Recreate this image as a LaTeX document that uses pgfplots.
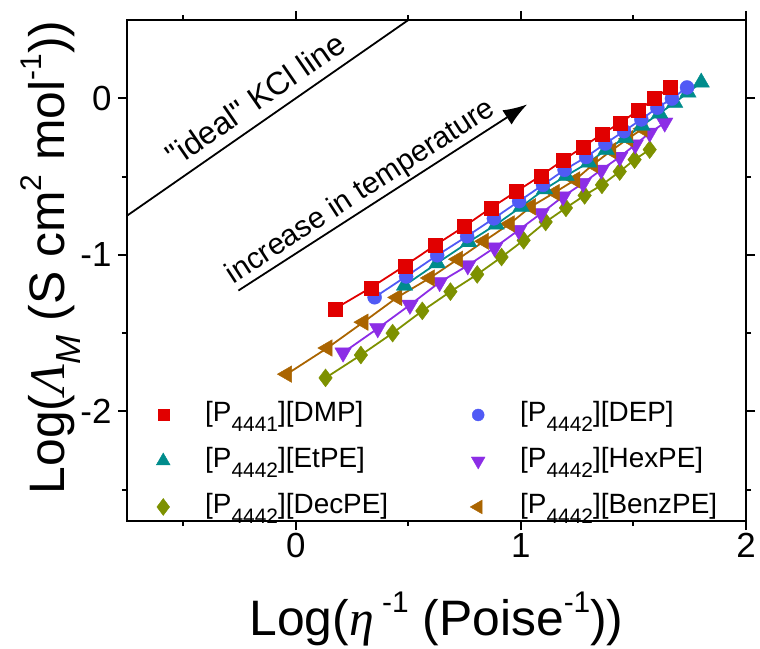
\documentclass[border=0pt]{standalone}
\usepackage{pgfplots}
\pgfplotsset{compat=1.18}
\usetikzlibrary{arrows.meta}
\usepackage{fontspec}
\setmainfont{Liberation Sans}
\newfontfamily\serif{Liberation Serif}
\newfontfamily\nomap{Liberation Sans}[Ligatures=TeXOff]
\newcommand\sups[1]{\raisebox{0.47em}{\fontsize{30}{30}\selectfont #1}}
\newcommand\subs[1]{\raisebox{-0.35em}{\fontsize{21}{21}\selectfont #1}}
\definecolor{cred}{RGB}{225,0,0}
\definecolor{cblue}{RGB}{80,90,245}
\definecolor{cteal}{RGB}{0,140,140}
\definecolor{cpurple}{RGB}{140,45,230}
\definecolor{colive}{RGB}{125,145,0}
\definecolor{cbrown}{RGB}{170,100,0}
\pgfplotsset{mylegimg/.style={legend image code/.code={\path[draw=none,fill=none] (-14bp,0bp) rectangle (39bp,0bp); \draw[##1] plot coordinates {(0bp,0bp)};}}}
\begin{document}
\begin{tikzpicture}
\begin{axis}[
  scale only axis, width=619bp, height=501bp,
  xmin=-0.75, xmax=2, ymin=-2.7, ymax=0.5,
  xtick={0,1,2}, xticklabels={0,1,2},
  ytick={-2,-1,0}, yticklabels={-2,-1,0},
  minor xtick={-0.5,0.5,1.5}, minor ytick={-2.5,-1.5,-0.5},
  tick align=outside,
  major tick length=9bp, minor tick length=5bp,
  every tick/.style={black, line width=2bp},
  axis line style={line width=2.5bp},
  tick label style={font=\fontsize{35}{40}\selectfont},
  yticklabel style={xshift=-3bp},
  xlabel={Log({\serif\itshape η}\,\sups{-1} (Poise\sups{-1}))},
  ylabel={Log({\serif\itshape Λ}\textsubscript{\textit{M}} (S cm\sups{2} mol\sups{-1}))},
  label style={font=\fontsize{50}{58}\selectfont},
  x label style={at={(axis description cs:0.5,-0.196)}, anchor=center},
  y label style={at={(axis description cs:-0.124,0.526)}, anchor=center, rotate=0},
  legend columns=2,
  legend cell align=left,
  legend style={draw=none, fill=none, inner sep=0pt, font=\fontsize{28}{33}\selectfont,
    at={(rel axis cs:0.0356,0.245)}, anchor=north west, row sep=13bp,
    nodes={inner sep=3bp, text height=20bp, text depth=7bp},
    /tikz/every even column/.append style={column sep=73bp}},
  clip=false,
]
\addlegendimage{mylegimg, only marks, mark=square*, cred, mark size=5.5bp}
\addlegendentry{[P\subs{4441}][DMP]}
\addlegendimage{mylegimg, only marks, mark=*, cblue, mark size=6bp}
\addlegendentry{[P\subs{4442}][DEP]}
\addlegendimage{mylegimg, only marks, mark=triangle*, cteal, mark size=8bp}
\addlegendentry{[P\subs{4442}][EtPE]}
\addlegendimage{mylegimg, only marks, mark=triangle*, mark options={rotate=180}, cpurple, mark size=8bp}
\addlegendentry{[P\subs{4442}][HexPE]}
\addlegendimage{mylegimg, only marks, mark=diamond*, colive, mark size=8.5bp}
\addlegendentry{[P\subs{4442}][DecPE]}
\addlegendimage{mylegimg, only marks, mark=triangle*, mark options={rotate=90}, cbrown, mark size=8bp}
\addlegendentry{[P\subs{4442}][BenzPE]}

% ideal KCl line
\addplot[black, line width=1.8bp, forget plot] coordinates {(-0.75,-0.75) (0.5,0.5)};
% arrow
\addplot[black, line width=1.8bp, -{Latex[length=24bp,width=17bp]}, forget plot] coordinates {(-0.255,-1.228) (1.028,-0.039)};

\node[rotate=34.6, font=\fontsize{32}{38}\selectfont] at (axis cs:-0.18,-0.005) {\nomap "ideal" KCl line};
\node[rotate=33, font=\fontsize{30}{36}\selectfont] at (axis cs:0.29,-0.6) {increase in temperature};

\addplot[colive, line width=1.8bp, mark=diamond*, mark size=9bp, mark options={line width=0.4bp}, forget plot] coordinates {
(0.132,-1.786) (0.289,-1.640) (0.430,-1.500) (0.562,-1.358) (0.687,-1.235) (0.806,-1.125) (0.914,-1.014) (1.012,-0.907) (1.110,-0.790) (1.200,-0.700) (1.283,-0.620) (1.360,-0.553) (1.439,-0.468) (1.505,-0.392) (1.572,-0.328)};
\addplot[cpurple, line width=1.8bp, mark=triangle*, mark size=9.5bp, mark options={rotate=180, line width=0.4bp}, forget plot] coordinates {
(0.210,-1.625) (0.364,-1.470) (0.507,-1.320) (0.639,-1.175) (0.764,-1.068) (0.883,-0.954) (0.990,-0.842) (1.090,-0.735) (1.187,-0.628) (1.276,-0.542) (1.357,-0.457) (1.439,-0.375) (1.508,-0.296) (1.572,-0.221) (1.639,-0.156)};
\addplot[cbrown, line width=1.8bp, mark=triangle*, mark size=9.5bp, mark options={rotate=90, line width=0.4bp}, forget plot] coordinates {
(-0.040,-1.762) (0.140,-1.595) (0.300,-1.430) (0.450,-1.272) (0.595,-1.148) (0.720,-1.028) (0.836,-0.913) (0.950,-0.802) (1.044,-0.693) (1.150,-0.602) (1.241,-0.521) (1.320,-0.424) (1.401,-0.335) (1.476,-0.258) (1.540,-0.195)};
\addplot[cteal, line width=1.8bp, mark=triangle*, mark size=9.5bp, mark options={line width=0.4bp}, forget plot] coordinates {
(0.483,-1.196) (0.628,-1.053) (0.768,-0.918) (0.890,-0.806) (1.001,-0.693) (1.105,-0.581) (1.201,-0.495) (1.301,-0.410) (1.379,-0.328) (1.464,-0.253) (1.538,-0.174) (1.616,-0.096) (1.683,-0.028) (1.742,0.037) (1.801,0.101)};
\addplot[cblue, line width=1.8bp, mark=*, mark size=7bp, mark options={line width=0.4bp}, forget plot] coordinates {
(0.350,-1.271) (0.490,-1.138) (0.628,-1.003) (0.761,-0.881) (0.880,-0.767) (0.992,-0.657) (1.098,-0.553) (1.194,-0.457) (1.290,-0.375) (1.375,-0.289) (1.458,-0.210) (1.535,-0.135) (1.606,-0.060) (1.671,-0.002) (1.738,0.069)};
\addplot[cred, line width=1.8bp, mark=square*, mark size=7bp, mark options={line width=0.4bp}, forget plot] coordinates {
(0.173,-1.345) (0.333,-1.210) (0.484,-1.070) (0.618,-0.940) (0.747,-0.820) (0.867,-0.700) (0.979,-0.596) (1.088,-0.495) (1.186,-0.397) (1.276,-0.311) (1.361,-0.227) (1.443,-0.156) (1.523,-0.075) (1.594,-0.002) (1.661,0.069)};
\end{axis}
\pgfresetboundingbox
\useasboundingbox (current axis.south west) ++(-127bp,-128bp) rectangle ++(760bp,649bp);
\end{tikzpicture}
\end{document}
